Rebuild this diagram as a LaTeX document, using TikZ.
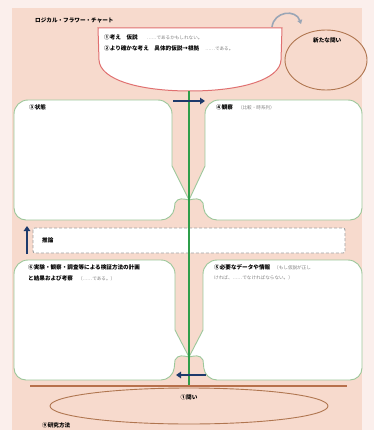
\documentclass[tikz,border=0pt]{standalone}
\usepackage{fontspec}
\newfontfamily\jp{Noto Sans CJK JP}
\usetikzlibrary{arrows.meta}
\definecolor{outerbg}{HTML}{FBEFEC}
\definecolor{innerbg}{HTML}{F7DACD}
\definecolor{redc}{HTML}{E07070}
\definecolor{gboxc}{HTML}{9CC79A}
\definecolor{greenc}{HTML}{2F9E4A}
\definecolor{navy}{HTML}{1E3A6B}
\definecolor{brownc}{HTML}{B8714C}
\definecolor{ellc}{HTML}{B07650}
\definecolor{dashc}{HTML}{A0A0A0}
\definecolor{lightt}{HTML}{808080}
\definecolor{arcc}{HTML}{9AA6B6}
\tikzset{
  gbox/.style={draw=gboxc, fill=white, line width=0.9pt},
  lbl/.style={anchor=west, inner sep=0pt, font=\jp\bfseries\fontsize{5.6}{7}\selectfont, text=black},
  lt/.style={text=lightt, font=\jp\fontsize{4.6}{6}\selectfont},
  navyarrow/.style={draw=navy, line width=2.6pt, -{Triangle[length=5pt,width=6.5pt]}},
}
\newcommand{\light}[1]{{\jp\mdseries\fontsize{4.6}{6}\selectfont\color{lightt}#1}}
\begin{document}
\begin{tikzpicture}[x=1pt,y=-1pt]
\useasboundingbox (0,0) rectangle (374,430);
\fill[outerbg] (0,0) rectangle (374,430);
\fill[innerbg] (12,8) rectangle (362,430);

% title
\node[lbl] (title) at (35,20) {ロジカル・フラワー・チャート};

% curved arrow
\draw[arcc, line width=1.6pt, -{Triangle[length=4pt,width=5pt]}] (272,27) .. controls (274,11) and (296,9) .. (301,24);

% top red box
\draw[draw=redc, fill=white, line width=1pt] (98,28) -- (282,28) -- (281,60) .. controls (280,80) and (240,91) .. (190,91) .. controls (140,91) and (100,80) .. (99,60) -- cycle;
\node[lbl] (hyp1) at (104,37) {①考え　仮説\hspace{9pt}\light{……であるかもしれない。}};
\node[lbl] (hyp2) at (104,48) {②より確かな考え　具体的仮説→根拠\hspace{6pt}\light{……である。}};

% top right ellipse
\draw[ellc, line width=0.9pt, fill=innerbg] (326,60) ellipse [x radius=41, y radius=30];
\node[lbl] (newq) at (313,40) {新たな問い};

% upper left box
\draw[gbox] (14,160) [rounded corners=14pt] -- (14,100) -- (172,100) -- (172,150) [sharp corners] -- (172,166) -- (189,200) .. controls (184,199) and (178,197) .. (175,203) [rounded corners=12pt] -- (173,220) -- (14,220) -- cycle;
% upper right box
\draw[gbox] (362,160) [rounded corners=14pt] -- (362,100) -- (205,100) -- (205,150) [sharp corners] -- (205,166) -- (189,200) .. controls (194,199) and (200,197) .. (203,203) [rounded corners=12pt] -- (205,220) -- (362,220) -- cycle;
\node[lbl] (state) at (29,107) {③状態};
\node[lbl] (obs) at (216,107) {④観察\hspace{5pt}\light{（比較・時系列）}};

% lower left box
\draw[gbox] (14,320) [rounded corners=14pt] -- (14,260) -- (175,260) -- (175,310) [sharp corners] -- (175,330) -- (189,357) .. controls (184,356) and (178,354) .. (175,360) [rounded corners=12pt] -- (173,380) -- (14,380) -- cycle;
% lower right box
\draw[gbox] (362,320) [rounded corners=14pt] -- (362,260) -- (203,260) -- (203,310) [sharp corners] -- (203,330) -- (189,357) .. controls (194,356) and (200,354) .. (203,360) [rounded corners=12pt] -- (205,380) -- (362,380) -- cycle;
\node[lbl] (exp1) at (28,267) {⑥実験・観察・調査等による検証方法の計画};
\node[lbl] (exp2) at (28,278) {と結果および考察\hspace{5pt}\light{（……である。）}};
\node[lbl] (data1) at (214,267) {⑤必要なデータや情報\hspace{4pt}\light{（もし仮説が正し}};
\node[lbl] (data2) at (214,278) {\light{ければ、……でなければならない。）}};

% dashed box
\draw[draw=dashc, fill=white, line width=0.9pt, densely dashed, rounded corners=2pt] (33,228) rectangle (345,253);
\node[lbl] (infer) at (42,240) {推論};

% green stem
\coordinate (stemtop) at (189,91);
\coordinate (stembot) at (189,387);
\draw[greenc, line width=1.8pt] (stemtop) -- (stembot);

% brown ground line
\coordinate (gl) at (30,386);
\coordinate (gr) at (347,386);
\draw[brownc, line width=1.8pt] (gl) -- (gr);

% root ellipse
\draw[ellc, line width=0.9pt] (189,406) ellipse [x radius=139, y radius=18];
\node[lbl, anchor=center] (q) at (189,397) {①問い};
\node[lbl] (method) at (42,425) {⑨研究方法};

% navy arrows
\coordinate (a1s) at (173,101);
\coordinate (a1e) at (205,101);
\draw[navyarrow] (a1s) -- (a1e);
\coordinate (a2s) at (206,375);
\coordinate (a2e) at (176,375);
\draw[navyarrow] (a2s) -- (a2e);
\coordinate (a3s) at (27,254);
\coordinate (a3e) at (27,226);
\draw[navyarrow] (a3s) -- (a3e);
\end{tikzpicture}
\end{document}
